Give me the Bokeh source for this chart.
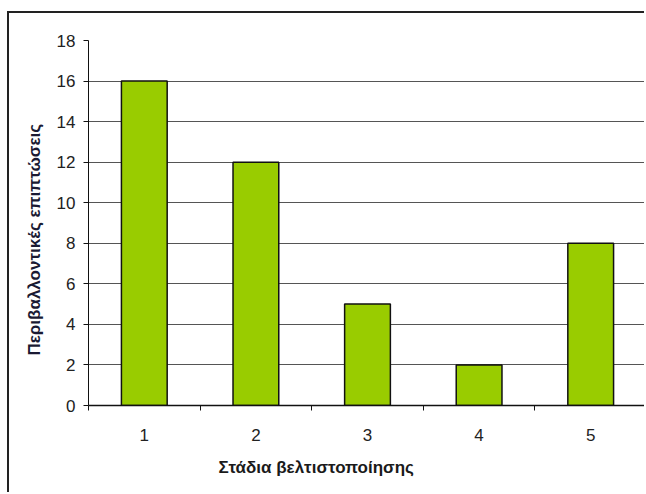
from bokeh.plotting import figure
from bokeh.models import FixedTicker, ColumnDataSource, Range1d, Title
from bokeh.embed import file_html
from bokeh.resources import INLINE

stages = [1, 2, 3, 4, 5]
impacts = [16, 12, 5, 2, 8]
y_ticks = [0, 2, 4, 6, 8, 10, 12, 14, 16, 18]
x_title = "Στάδια βελτιστοποίησης"
y_title = "Περιβαλλοντικές επιπτώσεις"

FONT = "Liberation Sans"
OFF_X, OFF_Y = 9, 13  # figure position on the page (margin + border)
W, H = 646 - OFF_X, 494 - OFF_Y
FL, FT, FB = 88, 40, 405  # frame left / top / bottom on the page

p = figure(width=W, height=H, output_backend="svg", toolbar_location=None,
           x_range=Range1d(0.5, 5.5), y_range=Range1d(0, 18),
           min_border_left=FL - OFF_X, min_border_right=0,
           min_border_top=FT - OFF_Y, min_border_bottom=H - (FB - OFF_Y))
p.styles = {"margin-left": "7px", "margin-top": "11px",
            "border-left": "2px solid #222", "border-top": "2px solid #222"}
p.background_fill_color = "white"
p.border_fill_color = "white"
p.outline_line_color = None

src = ColumnDataSource(dict(x=stages, top=impacts))
p.vbar(x="x", top="top", width=0.41, bottom=0, source=src,
       fill_color="#99CC00", line_color="#111111", line_width=1.5)

# axes
p.xaxis.ticker = FixedTicker(ticks=stages, minor_ticks=[0.5, 1.5, 2.5, 3.5, 4.5, 5.5])
p.xaxis.major_tick_out = 0
p.xaxis.major_tick_in = 0
p.xaxis.minor_tick_out = 5
p.xaxis.minor_tick_in = 0
p.xaxis.minor_tick_line_color = "#111111"
p.xaxis.axis_line_color = "#111111"
p.xaxis.axis_line_width = 1.5
p.xaxis.major_label_text_font = FONT
p.xaxis.major_label_text_font_size = "17px"
p.xaxis.major_label_text_color = "#222222"
p.xaxis.major_label_standoff = 18

p.yaxis.ticker = FixedTicker(ticks=y_ticks)
p.yaxis.minor_tick_line_color = None
p.yaxis.major_tick_out = 5
p.yaxis.major_tick_in = 0
p.yaxis.major_tick_line_color = "#111111"
p.yaxis.axis_line_color = "#111111"
p.yaxis.major_label_text_font = FONT
p.yaxis.major_label_text_font_size = "17px"
p.yaxis.major_label_text_color = "#222222"
p.yaxis.major_label_standoff = 8

p.xgrid.grid_line_color = None
p.ygrid.ticker = FixedTicker(ticks=y_ticks)
p.ygrid.grid_line_color = "#555555"
p.ygrid.grid_line_width = 1.2

# axis titles
p.add_layout(Title(text=x_title, align="left", offset=130, standoff=24,
                   text_font=FONT, text_font_style="bold", text_font_size="17px",
                   text_color="#1a1a1a"), "below")
p.add_layout(Title(text=y_title, align="left", offset=50, standoff=20,
                   text_font=FONT, text_font_style="bold", text_font_size="17px",
                   text_color="#1a1a33"), "left")

open("out.html", "w").write(file_html(p, INLINE))
